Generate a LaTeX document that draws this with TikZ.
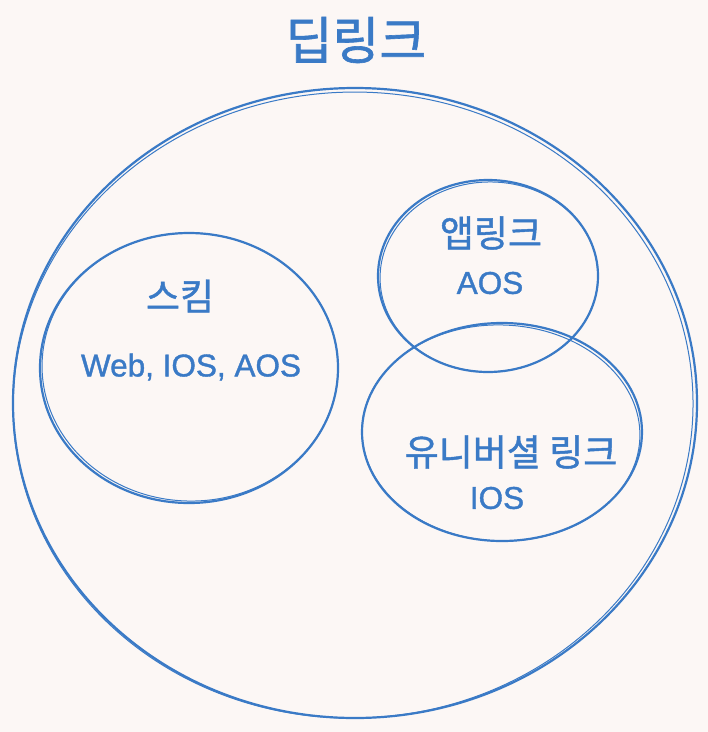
\documentclass[tikz,border=0pt]{standalone}
\usepackage{fontspec}
\setmainfont{Liberation Sans}[FakeBold=1.2]
\newfontfamily\krfont{Noto Sans CJK KR}[FakeBold=1.2]
\usepackage{xcolor}
\usetikzlibrary{positioning}
\definecolor{inkblue}{HTML}{3A7AC6}
\definecolor{paper}{HTML}{FCF7F5}

\begin{document}
\begin{tikzpicture}[x=1pt, y=-1pt,
    sketch/.style={draw=inkblue, line width=2.2pt},
    sketchthin/.style={draw=inkblue, line width=1pt},
    krtext/.style={text=inkblue, inner sep=0pt, font=\krfont\fontsize{37}{40}\selectfont},
    ostext/.style={text=inkblue, inner sep=0pt, font=\fontsize{31.5}{35}\selectfont}]
    % background
    \fill[paper] (0,0) rectangle (708,732);
    \useasboundingbox (0,0) rectangle (708,732);
    % title
    \node[krtext, font=\krfont\fontsize{51}{55}\selectfont] (title) at (356,40) {딥링크};
    % deep link circle
    \draw[sketch] (355,403) ellipse [x radius=342, y radius=315];
    \draw[sketchthin, rotate around={1.5:(355,403)}] (353,405) ellipse [x radius=340, y radius=313];
    % scheme
    \draw[sketch] (189,368) ellipse [x radius=149, y radius=135];
    \draw[sketchthin, rotate around={-2:(189,368)}] (190,367) ellipse [x radius=148, y radius=134];
    \node[krtext] (skim) at (180,296) {스킴};
    \node[ostext] (skimos) at (191,367) {Web, IOS, AOS};
    % app link
    \draw[sketch] (488,276) ellipse [x radius=110, y radius=96];
    \draw[sketchthin, rotate around={2:(488,276)}] (489,277) ellipse [x radius=109, y radius=95];
    \node[krtext] (applink) at (491,233) {앱링크};
    \node[ostext] (applinkos) at (490,283) {AOS};
    % universal link
    \draw[sketch] (502,432) ellipse [x radius=140, y radius=109];
    \draw[sketchthin, rotate around={-2:(502,432)}] (501,433) ellipse [x radius=139, y radius=108];
    \node[krtext] (ulink) at (511,452) {유니버셜 링크};
    \node[ostext] (ulinkos) at (497,498) {IOS};
\end{tikzpicture}
\end{document}
